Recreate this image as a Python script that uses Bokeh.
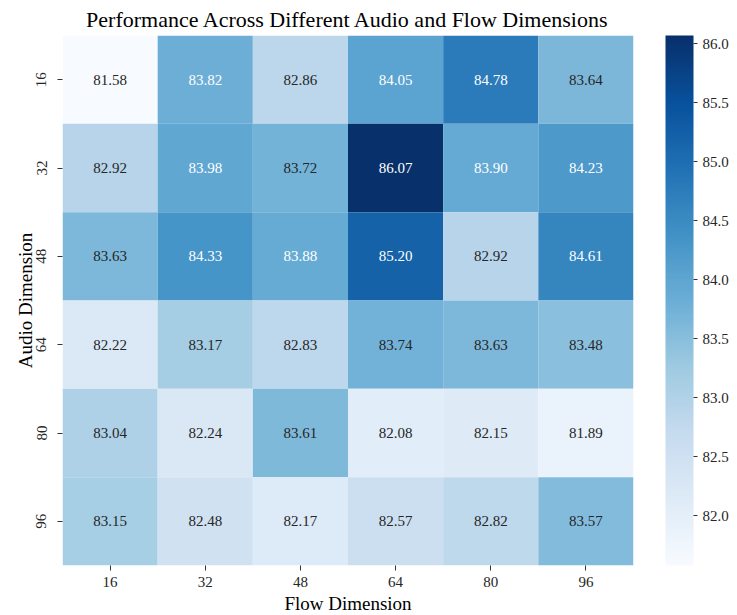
import numpy as np
from bokeh.plotting import figure
from bokeh.models import (ColumnDataSource, LinearColorMapper, ColorBar,
                          FixedTicker, NumeralTickFormatter)
from bokeh.palettes import Blues256
from bokeh.core.properties import value
from bokeh.embed import file_html
from bokeh.resources import INLINE

# ---------------- data ----------------
flow_dims = ["16", "32", "48", "64", "80", "96"]
audio_dims = ["16", "32", "48", "64", "80", "96"]

row_16 = [81.58, 83.82, 82.86, 84.05, 84.78, 83.64]
row_32 = [82.92, 83.98, 83.72, 86.07, 83.90, 84.23]
row_48 = [83.63, 84.33, 83.88, 85.20, 82.92, 84.61]
row_64 = [82.22, 83.17, 82.83, 83.74, 83.63, 83.48]
row_80 = [83.04, 82.24, 83.61, 82.08, 82.15, 81.89]
row_96 = [83.15, 82.48, 82.17, 82.57, 82.82, 83.57]
rows = [row_16, row_32, row_48, row_64, row_80, row_96]

cbar_ticks = [82.0, 82.5, 83.0, 83.5, 84.0, 84.5, 85.0, 85.5, 86.0]

FONT = "Liberation Serif"

# ---------------- build table ----------------
palette = list(reversed(Blues256))
all_vals = [v for r in rows for v in r]
lo, hi = min(all_vals), max(all_vals)
# annotation turns white on the darker cells
text_switch = 0.49  # fraction of the colour range

xs, ys, vals, labels, tcolors = [], [], [], [], []
for a, r in zip(audio_dims, rows):
    for f, v in zip(flow_dims, r):
        xs.append(f)
        ys.append(a)
        vals.append(v)
        labels.append(f"{v:.2f}")
        frac = (v - lo) / (hi - lo)
        tcolors.append("#ffffff" if frac > text_switch else "#262626")

src = ColumnDataSource(dict(x=xs, y=ys, v=vals, label=labels, tc=tcolors))

mapper = LinearColorMapper(palette=palette, low=lo, high=hi)

p = figure(frame_width=571, frame_height=530,
           x_range=flow_dims, y_range=list(reversed(audio_dims)),
           output_backend="svg", toolbar_location=None,
           title="Performance Across Different Audio and Flow Dimensions",
           min_border_left=62, min_border_top=35, min_border_bottom=44,
           min_border_right=100)

p.rect(x="x", y="y", width=1, height=1, source=src,
       fill_color={"field": "v", "transform": mapper}, line_color=None)

p.text(x="x", y="y", text="label", source=src,
       text_color="tc", text_align="center", text_baseline="middle",
       text_font=value(FONT), text_font_size="15px")

# styling
p.title.align = "center"
p.title.text_font = FONT
p.title.text_font_size = "22px"
p.title.text_font_style = "normal"
p.title.text_color = "#000000"
p.title.standoff = 8

p.xaxis.axis_label = "Flow Dimension"
p.yaxis.axis_label = "Audio Dimension"
for ax in (p.xaxis, p.yaxis):
    ax.axis_label_text_font = FONT
    ax.axis_label_text_font_size = "19px"
    ax.axis_label_text_font_style = "normal"
    ax.axis_label_text_color = "#000000"
    ax.major_label_text_font = FONT
    ax.major_label_text_font_size = "15px"
    ax.major_label_text_color = "#262626"
    ax.axis_line_color = None
    ax.major_tick_line_color = "#333333"
    ax.major_tick_out = 5
    ax.major_tick_in = 0
    ax.minor_tick_line_color = None
p.xaxis.major_label_standoff = 6
p.xaxis.axis_label_standoff = 3
p.yaxis.major_label_standoff = 11
p.yaxis.axis_label_standoff = -2
p.yaxis.major_label_orientation = "vertical"

p.xgrid.grid_line_color = None
p.ygrid.grid_line_color = None
p.outline_line_color = None
p.background_fill_color = "white"

cb = ColorBar(color_mapper=mapper, width=28, height=530,
              ticker=FixedTicker(ticks=cbar_ticks),
              formatter=NumeralTickFormatter(format="0.0"),
              major_label_text_font=FONT, major_label_text_font_size="15px",
              major_label_text_color="#262626",
              major_tick_line_color="#333333", major_tick_out=4, major_tick_in=0,
              bar_line_color=None, border_line_color=None,
              background_fill_color=None,
              padding=0, margin=0, location=(32, 0),
              label_standoff=5)
p.add_layout(cb, "right")

open("out.html", "w").write(file_html(p, INLINE))
